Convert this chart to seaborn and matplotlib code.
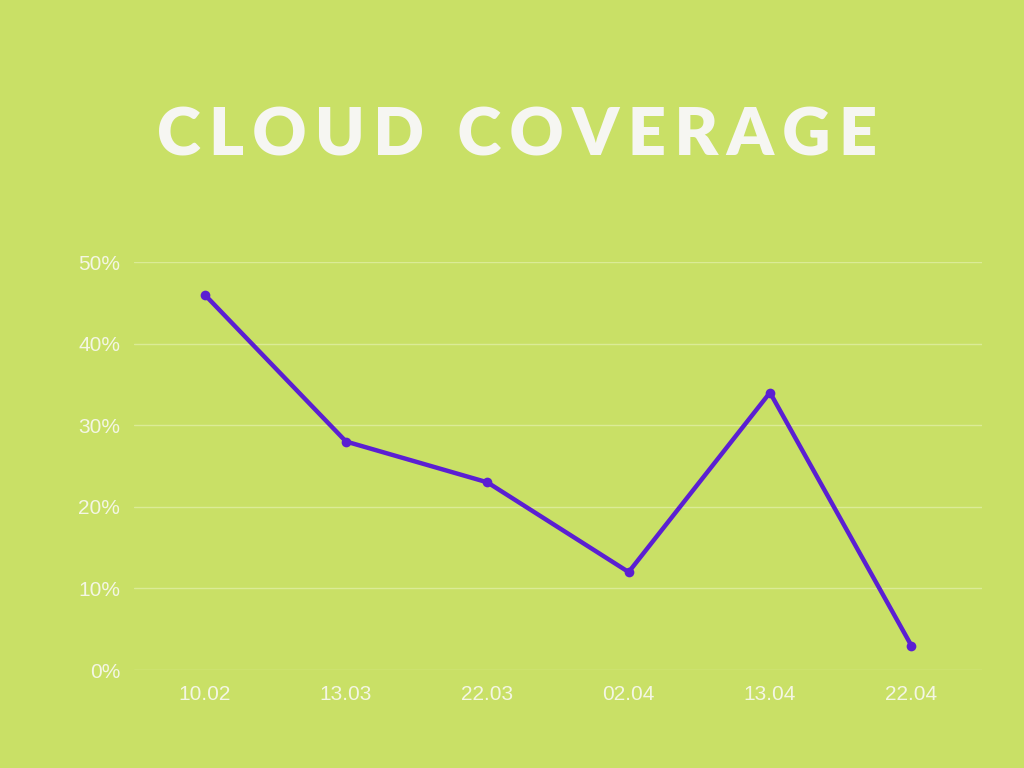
import matplotlib
matplotlib.use("Agg")
import matplotlib.pyplot as plt
import pandas as pd
import seaborn as sns

dates = ["10.02", "13.03", "22.03", "02.04", "13.04", "22.04"]
coverage = [46, 28, 23, 12, 34, 3]
y_ticks = [0, 10, 20, 30, 40, 50]

BG = "#c9e066"
LINE = "#5b1fd2"
TEXT = "#f4f6e4"
TITLE = "#f6f6f2"
GRID = "#dbeb96"

sns.set_theme(style="white")
plt.rcParams["font.family"] = ["Liberation Sans", "DejaVu Sans"]

df = pd.DataFrame({"date": dates, "coverage": coverage})
df["pos"] = range(len(df))

fig = plt.figure(figsize=(10.24, 7.68), dpi=100, facecolor=BG)
ax = fig.add_axes([134 / 1024, 98 / 768, 848 / 1024, 408 / 768])
ax.set_facecolor(BG)

sns.lineplot(data=df, x="pos", y="coverage", ax=ax, color=LINE, linewidth=3.2,
             marker="o", markersize=7, markeredgewidth=0, markerfacecolor=LINE)

ax.set_xlim(-0.5, len(dates) - 0.5)
ax.set_ylim(0, 50)
ax.set_xticks(range(len(dates)))
ax.set_xticklabels(dates)
ax.set_yticks(y_ticks)
ax.set_yticklabels([f"{v}%" for v in y_ticks])
ax.tick_params(axis="both", colors=TEXT, labelsize=15, length=0)
ax.tick_params(axis="x", pad=11)
ax.tick_params(axis="y", pad=10)
ax.grid(axis="y", color=GRID, linewidth=1)
ax.set_axisbelow(True)
for s in ax.spines.values():
    s.set_visible(False)
ax.set_xlabel("")
ax.set_ylabel("")

title = "\u2009\u2009\u2009\u2009".join("\u2009".join(w) for w in ["CLOUD", "COVERAGE"])
fig.text(517 / 1024, 1 - 136 / 768, title, ha="center", va="center",
         fontsize=48, fontweight="heavy", color=TITLE,
         family=["Lato", "DejaVu Sans"])

fig.savefig("out.png", dpi=100, facecolor=BG)
